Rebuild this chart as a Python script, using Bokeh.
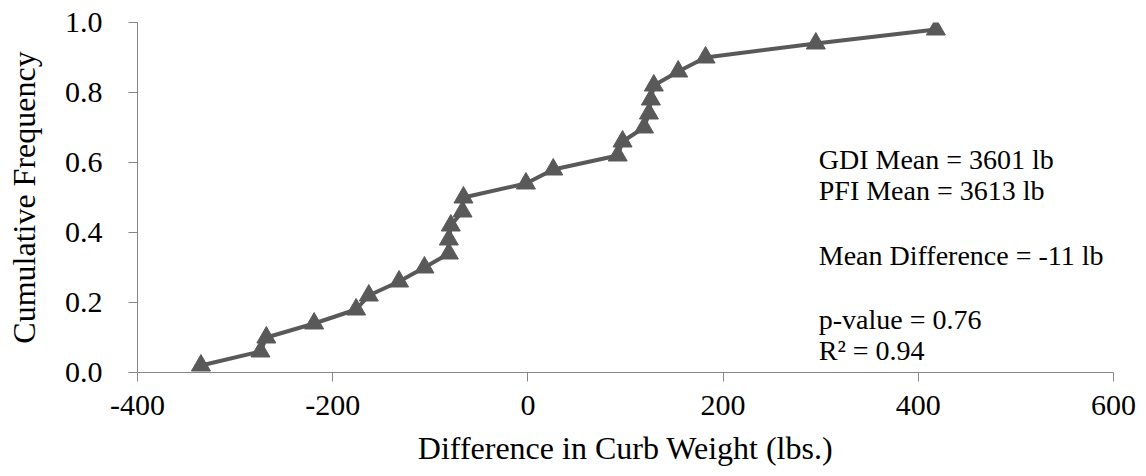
from bokeh.plotting import figure
from bokeh.models import FixedTicker, PrintfTickFormatter, Label, Range1d
from bokeh.embed import file_html
from bokeh.resources import INLINE

diff_lbs = [-335, -274, -268, -219, -176, -163, -132, -106, -81, -81, -79, -67, -66,
            -2, 26, 92, 97, 119, 124, 126, 129, 154, 182, 295, 418]
cum_freq = [0.02, 0.06, 0.10, 0.14, 0.18, 0.22, 0.26, 0.30, 0.34, 0.38, 0.42, 0.46, 0.50,
            0.54, 0.58, 0.62, 0.66, 0.70, 0.74, 0.78, 0.82, 0.86, 0.90, 0.94, 0.98]
x_ticks = [-400, -200, 0, 200, 400, 600]
y_ticks = [0.0, 0.2, 0.4, 0.6, 0.8, 1.0]
notes = ["GDI Mean = 3601 lb", "PFI Mean = 3613 lb", "Mean Difference = -11 lb",
         "p-value = 0.76", "R\u00b2 = 0.94"]
note_y = [0.609, 0.520, 0.334, 0.151, 0.063]

FONT = "'Liberation Serif', 'Times New Roman', serif"
COL = "#595959"

p = figure(width=1146, height=476, output_backend="svg", toolbar_location=None,
           x_range=Range1d(-400, 600), y_range=Range1d(0, 1),
           min_border_left=137, min_border_right=33, min_border_top=22, min_border_bottom=104)
p.outline_line_color = None
p.xgrid.visible = False
p.ygrid.visible = False

p.line(diff_lbs, cum_freq, line_color=COL, line_width=4)
p.scatter(diff_lbs, cum_freq, marker="triangle", size=19, fill_color=COL, line_color=COL)

for ax in (p.xaxis[0], p.yaxis[0]):
    ax.axis_line_color = "#868686"
    ax.major_tick_line_color = "#868686"
    ax.major_tick_out = 9
    ax.major_tick_in = 0
    ax.minor_tick_line_color = None
    ax.major_label_text_font = FONT
    ax.major_label_text_font_size = "30px"
    ax.major_label_text_color = "black"
    ax.axis_label_text_font = FONT
    ax.axis_label_text_font_size = "32px"
    ax.axis_label_text_font_style = "normal"
    ax.axis_label_text_color = "black"

p.xaxis.ticker = FixedTicker(ticks=x_ticks)
p.yaxis.ticker = FixedTicker(ticks=y_ticks)
p.xaxis.formatter = PrintfTickFormatter(format="%d")
p.yaxis.formatter = PrintfTickFormatter(format="%.1f")
p.xaxis.axis_label = "Difference in Curb Weight (lbs.)"
p.yaxis.axis_label = "Cumulative Frequency"
p.xaxis.major_label_standoff = 14
p.yaxis.major_label_standoff = 26
p.xaxis.axis_label_standoff = 12
p.yaxis.axis_label_standoff = 20

for t, yy in zip(notes, note_y):
    p.add_layout(Label(x=298, y=yy, text=t, text_font=FONT, text_font_size="28px",
                       text_baseline="middle", text_color="black"))

open("out.html", "w").write(file_html(p, INLINE))
